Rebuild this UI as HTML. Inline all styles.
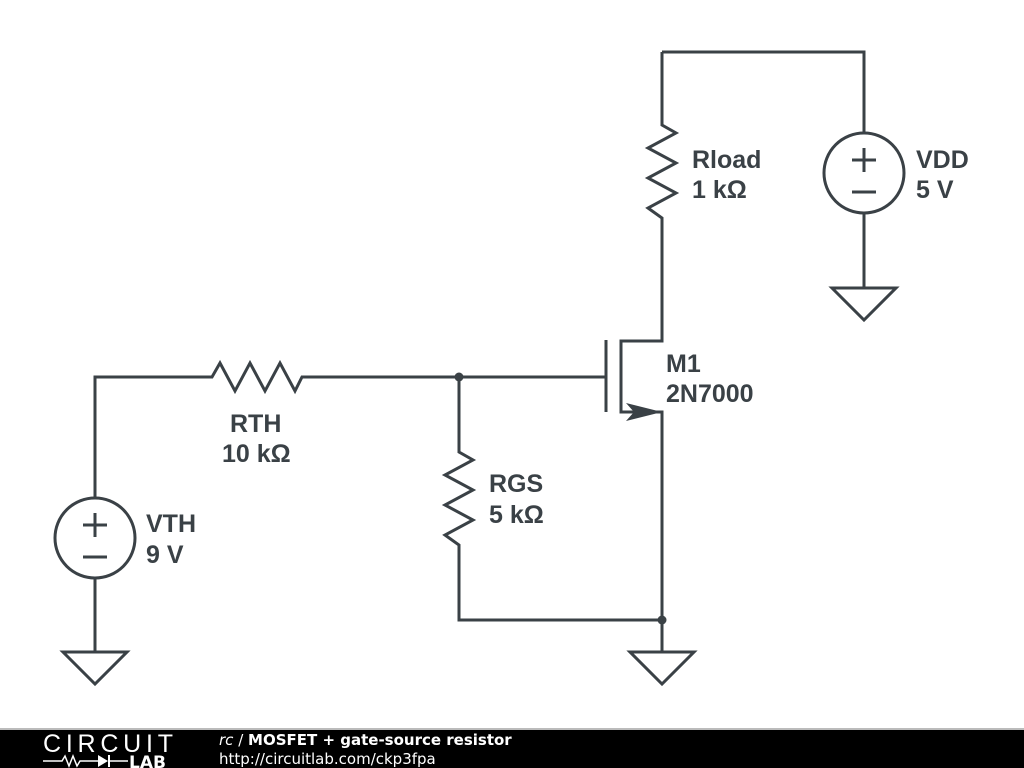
<!DOCTYPE html>
<html><head><style>
html,body{margin:0;padding:0;background:#fff;width:1024px;height:768px;overflow:hidden}
svg text{font-family:"Liberation Sans",Arial,sans-serif;font-weight:bold;fill:#3a4146;font-size:25px}
svg text.f{font-family:"DejaVu Sans","Liberation Sans",sans-serif}
</style></head><body>
<svg width="1024" height="768" viewBox="0 0 1024 768" xmlns="http://www.w3.org/2000/svg">
<g stroke="#3a4146" stroke-width="3" fill="none" stroke-linejoin="miter">
<polyline points="95,498 95,377 212,377 220,363 235,391 250,363 265,391 280,363 295,391 302,377 606,377"/>
<polyline points="459,377 459,452 473,460 445,475 473,490 445,505 473,520 445,535 459,545 459,620 662,620"/>
<polyline points="662,52 662,125 676,133 648,148 676,163 648,178 676,193 648,208 662,218 662,341 621,341 621,412 662,412 662,652"/>
<line x1="606" y1="340" x2="606" y2="412"/>
<polyline points="662,52 864,52 864,133"/>
<circle cx="864" cy="173" r="40"/>
<line x1="864" y1="213" x2="864" y2="288"/>
<polygon points="832,288 896,288 864,320"/>
<line x1="852" y1="160" x2="876" y2="160"/><line x1="864" y1="148" x2="864" y2="172"/>
<line x1="852" y1="192" x2="876" y2="192"/>
<circle cx="95" cy="538" r="40"/>
<line x1="95" y1="578" x2="95" y2="652"/>
<polygon points="63,652 127,652 95,684"/>
<line x1="83" y1="525" x2="107" y2="525"/><line x1="95" y1="513" x2="95" y2="537"/>
<line x1="83" y1="557" x2="107" y2="557"/>
<polygon points="630,652 694,652 662,684"/>
</g>
<polygon points="626,403 662,412 626,421 634,412" fill="#3a4146"/>
<circle cx="459" cy="377" r="4.5" fill="#3a4146"/>
<circle cx="662" cy="620" r="4.5" fill="#3a4146"/>
<text x="692" y="168">Rload</text><text x="692" y="198">1 kΩ</text>
<text x="916" y="168">VDD</text><text x="916" y="198">5 V</text>
<text x="666" y="372">M1</text><text x="666" y="402">2N7000</text>
<text x="230" y="432">RTH</text><text x="222" y="462">10 kΩ</text>
<text x="489" y="492">RGS</text><text x="489" y="523">5 kΩ</text>
<text x="146" y="532">VTH</text><text x="146" y="563">9 V</text>
<rect x="0" y="729" width="1024" height="39" fill="#000"/>
<rect x="0" y="728" width="1024" height="2" fill="#bbb"/>
<text x="43" y="752" textLength="130" style="font-weight:normal;fill:#fff;font-size:25px">CIRCUIT</text>
<polyline points="43,761 62,761 65,756 69,766 73,756 77,766 80,761 98,761" stroke="#fff" stroke-width="1.5" fill="none"/>
<polygon points="98,755 98,767 108,761" fill="#fff"/><line x1="109" y1="755" x2="109" y2="767" stroke="#fff" stroke-width="2"/>
<line x1="109" y1="761" x2="128" y2="761" stroke="#fff" stroke-width="1.5"/>
<text x="129" y="768" class="f" style="fill:#fff;font-size:17px">LAB</text>
<text x="219" y="745" class="f" style="fill:#fff;font-size:15px"><tspan style="font-style:italic;font-weight:normal">rc</tspan><tspan style="font-weight:normal"> / </tspan>MOSFET + gate-source resistor</text>
<text x="219" y="764" class="f" style="fill:#fff;font-size:15px;font-weight:normal">http://circuitlab.com/ckp3fpa</text>
</svg>
</body></html>
